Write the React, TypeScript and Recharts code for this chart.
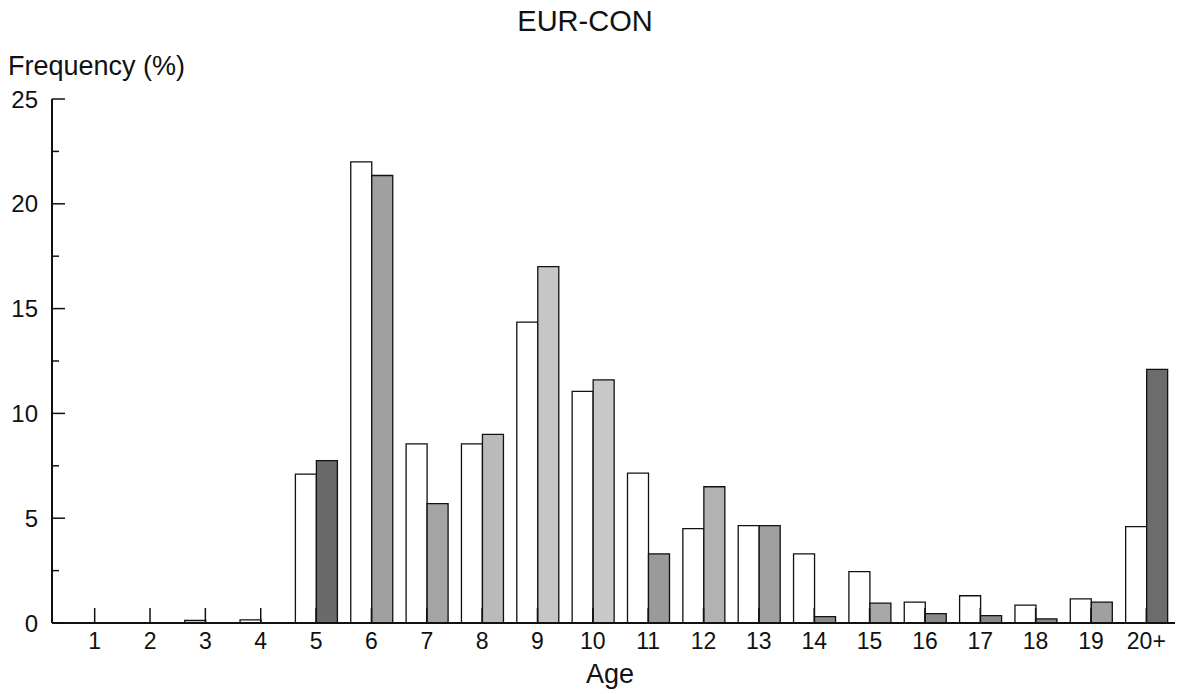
import React from 'react';
import { BarChart, Bar, XAxis, YAxis, Cell } from 'recharts';

const ages = ['1', '2', '3', '4', '5', '6', '7', '8', '9', '10', '11', '12', '13', '14', '15', '16', '17', '18', '19', '20+'];
const whiteSeries = [0, 0, 0.12, 0.15, 7.1, 22.0, 8.55, 8.55, 14.35, 11.05, 7.15, 4.5, 4.65, 3.3, 2.45, 1.0, 1.3, 0.85, 1.15, 4.6];
const shadedSeries = [0, 0, 0, 0, 7.75, 21.35, 5.7, 9.0, 17.0, 11.6, 3.3, 6.5, 4.65, 0.3, 0.95, 0.45, 0.35, 0.2, 1.0, 12.1];
const yTicks = [0, 2.5, 5, 7.5, 10, 12.5, 15, 17.5, 20, 22.5, 25];

// halftone greys differ a bit from bar to bar in the scan
const SHADES = ['#888', '#888', '#888', '#888', '#6a6a6a', '#a0a0a0', '#a4a4a4', '#bababa', '#c6c6c6', '#c8c8c8',
  '#9a9a9a', '#b2b2b2', '#a0a0a0', '#8a8a8a', '#a8a8a8', '#8a8a8a', '#8a8a8a', '#8a8a8a', '#a0a0a0', '#6c6c6c'];

const data = ages.map((age, i) => ({ age, a: whiteSeries[i], b: shadedSeries[i] }));

const FONT = '"Liberation Sans", Arial, Helvetica, sans-serif';

const YTick = (props: any) => {
  const { x, y, payload } = props;
  const major = payload.value % 5 === 0;
  const axisX = x + 14;
  return (
    <g>
      <line x1={axisX} x2={axisX + (major ? 13 : 7)} y1={y} y2={y} stroke="#111" strokeWidth={1.5} />
      {major && (
        <text x={x} y={y} dy="0.36em" textAnchor="end" fontSize={24} fill="#111" fontFamily={FONT}>
          {payload.value}
        </text>
      )}
    </g>
  );
};

const XTick = (props: any) => {
  const { x, y, payload } = props;
  const axisY = y - 10;
  return (
    <g>
      <line x1={x} x2={x} y1={axisY} y2={axisY - 15} stroke="#111" strokeWidth={1.5} />
      <text x={x} y={y} dy="0.71em" textAnchor="middle" fontSize={23} fill="#111" fontFamily={FONT}>
        {payload.value}
      </text>
    </g>
  );
};

export default function App() {
  return (
    <div style={{ position: 'absolute', left: 0, top: 0, width: 1187, height: 694, background: '#fff', fontFamily: FONT, color: '#111' }}>
      <div style={{ position: 'absolute', left: 585, top: 5, transform: 'translateX(-50%)', fontSize: 29, whiteSpace: 'nowrap' }}>EUR-CON</div>
      <div style={{ position: 'absolute', left: 8, top: 51, fontSize: 27, whiteSpace: 'nowrap' }}>Frequency (%)</div>
      <div style={{ position: 'absolute', left: 610, top: 659, transform: 'translateX(-50%)', fontSize: 27, whiteSpace: 'nowrap' }}>Age</div>
      <BarChart width={1187} height={694} data={data} margin={{ top: 99, right: 12, left: 0, bottom: 0 }} barGap={0} barSize={21}>
        <XAxis
          dataKey="age"
          height={71}
          interval={0}
          tickSize={0}
          tickMargin={10}
          padding={{ left: 15, right: 1 }}
          axisLine={{ stroke: '#111', strokeWidth: 2 }}
          tickLine={false}
          tick={<XTick />}
        />
        <YAxis
          width={52}
          domain={[0, 25]}
          ticks={yTicks}
          interval={0}
          tickSize={0}
          tickMargin={14}
          axisLine={{ stroke: '#111', strokeWidth: 2 }}
          tickLine={false}
          tick={<YTick />}
        />
        <Bar dataKey="a" fill="#fff" stroke="#111" strokeWidth={1.3} isAnimationActive={false} />
        <Bar dataKey="b" stroke="#111" strokeWidth={1.3} isAnimationActive={false}>
          {data.map((d, i) => (
            <Cell key={d.age} fill={SHADES[i]} />
          ))}
        </Bar>
      </BarChart>
    </div>
  );
}
